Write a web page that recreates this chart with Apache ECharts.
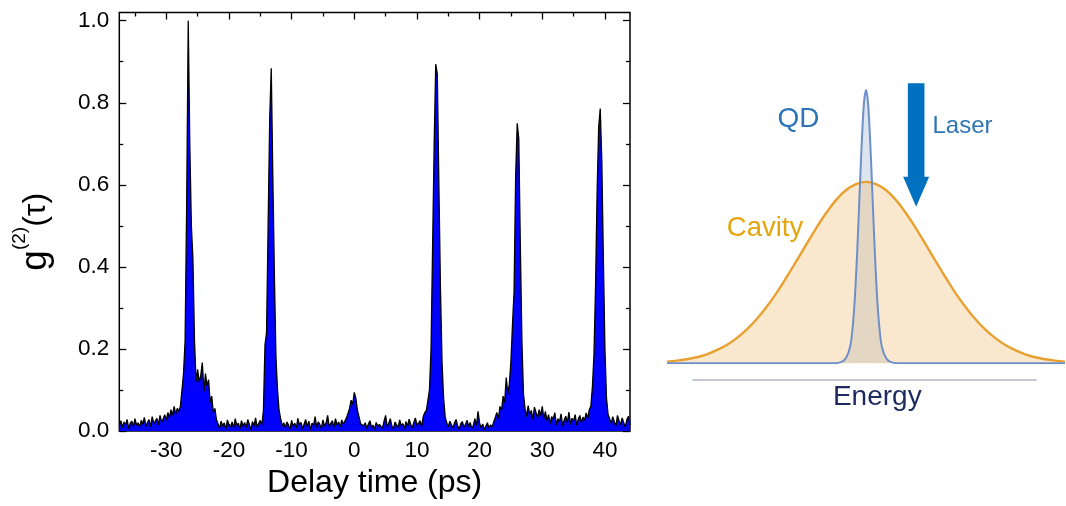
<!DOCTYPE html>
<html>
<head>
<meta charset="utf-8">
<script src="https://cdn.jsdelivr.net/npm/echarts@6/dist/echarts.min.js"></script>
<style>
  html, body { margin: 0; padding: 0; background: #fff; }
  #chart { width: 1066px; height: 506px; }
</style>
</head>
<body>
<div id="chart"></div>
<script>
// Second-order correlation trace, sampled every 0.25 ps starting at -37.5 ps
const delayStart = -37.5;
const delayStep = 0.25;
const g2Values = [
  // -37.5 .. -30.25 ps
  0.012, 0.025, 0.008, 0.022, 0.015, 0.028, 0.006, 0.019, 0.024, 0.011,
  0.030, 0.014, 0.020, 0.009, 0.026, 0.017, 0.033, 0.012, 0.021, 0.028,
  0.010, 0.035, 0.018, 0.024, 0.031, 0.015, 0.038, 0.022, 0.029, 0.040,
  // -30 .. -28 ps
  0.026, 0.045, 0.033, 0.052, 0.038, 0.060, 0.041, 0.055, 0.048,
  // -27.75 .. -24.75 ps (peak)
  0.060, 0.100, 0.140, 0.220, 0.550, 1.000, 0.700, 0.500, 0.420, 0.220, 0.120, 0.150, 0.120,
  // -24.5 .. -22 ps
  0.135, 0.167, 0.095, 0.140, 0.110, 0.125, 0.070, 0.085, 0.045, 0.055, 0.028,
  // -21.75 .. -14.75 ps
  0.018, 0.006, 0.024, 0.012, 0.020, 0.004, 0.027, 0.015, 0.010, 0.022,
  0.007, 0.030, 0.013, 0.019, 0.005, 0.025, 0.011, 0.021, 0.008, 0.028,
  0.016, 0.003, 0.023, 0.012, 0.032, 0.009, 0.018, 0.026, 0.014,
  // -14.5 .. -11.25 ps (peak)
  0.050, 0.210, 0.240, 0.500, 0.760, 0.884, 0.620, 0.380, 0.180, 0.100, 0.050, 0.030, 0.012, 0.020,
  // -11 .. -1.25 ps
  0.008, 0.022, 0.015, 0.004, 0.026, 0.012, 0.019, 0.007, 0.031, 0.014,
  0.021, 0.005, 0.017, 0.028, 0.010, 0.024, 0.003, 0.019, 0.013, 0.035,
  0.009, 0.022, 0.016, 0.006, 0.027, 0.012, 0.020, 0.038, 0.011, 0.018,
  0.025, 0.008, 0.030, 0.015, 0.022, 0.010, 0.027, 0.017, 0.024, 0.032,
  // -1 .. 1.25 ps (zero-delay peak)
  0.030, 0.055, 0.075, 0.065, 0.094, 0.080, 0.050, 0.035, 0.018, 0.022,
  // 1.5 .. 11.25 ps
  0.012, 0.020, 0.006, 0.017, 0.025, 0.009, 0.014, 0.004, 0.021, 0.011,
  0.016, 0.013, 0.007, 0.024, 0.038, 0.010, 0.019, 0.030, 0.012, 0.005,
  0.022, 0.015, 0.009, 0.027, 0.013, 0.018, 0.006, 0.023, 0.011, 0.029,
  0.016, 0.008, 0.021, 0.032, 0.014, 0.019, 0.025, 0.010, 0.035, 0.045,
  // 11.5 .. 14.75 ps (peak)
  0.050, 0.075, 0.100, 0.200, 0.450, 0.700, 0.894, 0.870, 0.600, 0.350, 0.170, 0.080, 0.035, 0.020,
  // 15 .. 22.5 ps
  0.010, 0.024, 0.015, 0.007, 0.020, 0.028, 0.012, 0.005, 0.018, 0.023,
  0.009, 0.016, 0.026, 0.011, 0.021, 0.006, 0.014, 0.030, 0.013, 0.048,
  0.019, 0.008, 0.017, 0.003, 0.012, 0.020, 0.007, 0.015, 0.010, 0.022,
  0.033,
  // 22.75 .. 24.75 ps
  0.045, 0.030, 0.060, 0.050, 0.085, 0.070, 0.130, 0.090, 0.115,
  // 25 .. 27 ps (peak)
  0.170, 0.260, 0.340, 0.620, 0.750, 0.713, 0.450, 0.220, 0.090,
  // 27.25 .. 37.5 ps
  0.055, 0.035, 0.062, 0.040, 0.050, 0.028, 0.058, 0.045, 0.032, 0.052,
  0.038, 0.060, 0.030, 0.048,
  0.025, 0.040, 0.018, 0.035, 0.028, 0.045, 0.015, 0.030, 0.022, 0.042,
  0.012, 0.027, 0.036, 0.020, 0.046, 0.016, 0.031, 0.024, 0.040, 0.014,
  0.029, 0.038, 0.020, 0.034, 0.026, 0.044, 0.030, 0.052,
  // 37.75 .. 40.5 ps (peak)
  0.060, 0.108, 0.185, 0.350, 0.580, 0.740, 0.786, 0.660, 0.420, 0.200, 0.080, 0.040,
  // 40.75 .. 44 ps
  0.030, 0.018, 0.035, 0.022, 0.012, 0.038, 0.025, 0.015, 0.032, 0.020, 0.010, 0.028, 0.036, 0.015
];

const delayTicks = [-30, -20, -10, 0, 10, 20, 30, 40];
const delayMinorTicks = [-35, -25, -15, -5, 5, 15, 25, 35];
const g2Ticks = [0, 0.2, 0.4, 0.6, 0.8, 1.0];
const g2MinorTicks = [0.1, 0.3, 0.5, 0.7, 0.9];

// Spectral sketch: cavity mode, quantum-dot line and laser position (arbitrary energy units 0..100)
const cavityStep = 2.5;
const cavityLevel = [
  0.006, 0.010, 0.015, 0.022, 0.033, 0.048, 0.067, 0.092, 0.123, 0.161,
  0.206, 0.257, 0.314, 0.374, 0.435, 0.495, 0.550, 0.598, 0.634, 0.656,
  0.664,
  0.656, 0.634, 0.598, 0.550, 0.495, 0.435, 0.374, 0.314, 0.257, 0.206,
  0.161, 0.123, 0.092, 0.067, 0.048, 0.033, 0.022, 0.015, 0.010, 0.006
];
const qdEnergy = [0, 42, 44, 45, 46, 46.5, 47, 47.5, 48, 48.5, 49, 49.5, 50,
                  50.5, 51, 51.5, 52, 52.5, 53, 53.5, 54, 55, 56, 58, 100];
const qdLevel = [0, 0, 0.006, 0.02, 0.06, 0.11, 0.195, 0.32, 0.48, 0.66, 0.83, 0.955, 1.0,
                 0.955, 0.83, 0.66, 0.48, 0.32, 0.195, 0.11, 0.06, 0.02, 0.006, 0, 0];
const laserEnergy = 62.6;
const laserTop = 1.025;
const laserTip = 0.573;

const FONT = '"Liberation Sans", Arial, Helvetica, sans-serif';

const g2Data = g2Values.map((v, i) => [delayStart + i * delayStep, v]);
const cavityData = cavityLevel.map((v, i) => [i * cavityStep, v]);
const qdData = qdEnergy.map((e, i) => [e, qdLevel[i]]);

const xRange = { min: -37.5, max: 44 };
const yRange = { min: 0, max: 1.02 };
const tickLine = { color: '#000', width: 1.3 };

function xAx(position, ticks, len, labels) {
  return Object.assign({
    type: 'value', gridIndex: 0, position: position,
    axisLine: { show: false, onZero: false },
    splitLine: { show: false },
    axisTick: { show: true, inside: true, length: len, customValues: ticks, lineStyle: tickLine },
    axisLabel: labels
      ? { show: true, customValues: ticks, margin: 8, fontFamily: FONT, fontSize: 22.5, color: '#000' }
      : { show: false }
  }, xRange);
}
function yAx(position, ticks, len, labels) {
  return Object.assign({
    type: 'value', gridIndex: 0, position: position,
    axisLine: { show: false, onZero: false },
    splitLine: { show: false },
    axisTick: { show: true, inside: true, length: len, customValues: ticks, lineStyle: tickLine },
    axisLabel: labels
      ? { show: true, customValues: ticks, margin: 10, fontFamily: FONT, fontSize: 22.5, color: '#000',
          formatter: v => v.toFixed(1) }
      : { show: false }
  }, yRange);
}

const xMain = xAx('bottom', delayTicks, 7, true);
xMain.name = 'Delay time (ps)';
xMain.nameLocation = 'middle';
xMain.nameGap = 34;
xMain.nameTextStyle = { fontFamily: FONT, fontSize: 32, color: '#000' };

const yMain = yAx('left', g2Ticks, 7, true);
yMain.name = '{g|g}{s|(2)}{t|(τ)}';
yMain.nameLocation = 'middle';
yMain.nameRotate = 90;
yMain.nameGap = 58;
yMain.nameTextStyle = {
  fontFamily: FONT, color: '#000',
  padding: [0, 20, 0, 0],
  rich: {
    g: { fontFamily: FONT, fontSize: 37, color: '#000' },
    s: { fontFamily: FONT, fontSize: 19, color: '#000', padding: [0, 0, 32, 0] },
    t: { fontFamily: FONT, fontSize: 32, color: '#000' }
  }
};

const chart = echarts.init(document.getElementById('chart'), null, { renderer: 'canvas' });
chart.setOption({
  animation: false,
  backgroundColor: '#fff',
  grid: [
    { left: 119.3, right: 436, top: 12.5, bottom: 75, show: true, borderColor: '#000', borderWidth: 1.5,
      backgroundColor: 'transparent' },
    { left: 667, right: 1, top: 62.7, bottom: 142.7 }
  ],
  xAxis: [
    xMain,
    xAx('bottom', delayMinorTicks, 4, false),
    xAx('top', delayTicks, 7, false),
    xAx('top', delayMinorTicks, 4, false),
    { type: 'value', gridIndex: 1, min: 0, max: 100, show: false }
  ],
  yAxis: [
    yMain,
    yAx('left', g2MinorTicks, 4, false),
    yAx('right', g2Ticks, 7, false),
    yAx('right', g2MinorTicks, 4, false),
    { type: 'value', gridIndex: 1, min: 0, max: 1.1, show: false }
  ],
  series: [
    {
      name: 'g2', type: 'line', xAxisIndex: 0, yAxisIndex: 0,
      data: g2Data, showSymbol: false, sampling: null,
      lineStyle: { color: '#000', width: 1.3 },
      areaStyle: { color: '#0000FF', opacity: 1 },
      silent: true
    },
    {
      name: 'QD fill', type: 'line', xAxisIndex: 4, yAxisIndex: 4,
      data: qdData, showSymbol: false, smooth: 0.3,
      lineStyle: { width: 0 },
      areaStyle: { color: '#DCE4F0', opacity: 1 },
      silent: true
    },
    {
      name: 'Cavity', type: 'line', xAxisIndex: 4, yAxisIndex: 4,
      data: cavityData, showSymbol: false, smooth: 0.4,
      lineStyle: { color: '#E8A030', width: 2.4 },
      areaStyle: { color: 'rgba(240,190,120,0.36)', opacity: 1 },
      silent: true
    },
    {
      name: 'QD', type: 'line', xAxisIndex: 4, yAxisIndex: 4,
      data: qdData, showSymbol: false, smooth: 0.3,
      lineStyle: { color: '#6E8FC8', width: 2 },
      silent: true
    },
    {
      name: 'Laser', type: 'custom', xAxisIndex: 4, yAxisIndex: 4,
      data: [[laserEnergy, laserTop, laserTip]],
      silent: true,
      renderItem: function (params, api) {
        const top = api.coord([api.value(0), api.value(1)]);
        const tip = api.coord([api.value(0), api.value(2)]);
        const x = tip[0], shaft = 8.3, head = 13, headLen = 30;
        const base = tip[1] - headLen;
        return {
          type: 'polygon',
          shape: { points: [
            [x - shaft, top[1]], [x + shaft, top[1]], [x + shaft, base], [x + head, base],
            [x, tip[1]], [x - head, base], [x - shaft, base]
          ] },
          style: { fill: '#0070C0' }
        };
      }
    }
  ],
  graphic: [
    { type: 'line', silent: true, shape: { x1: 692.7, y1: 380, x2: 1036.7, y2: 380 },
      style: { stroke: '#8C91A8', lineWidth: 1 } },
    { type: 'text', silent: true, x: 798.5, y: 119,
      style: { text: 'QD', fontFamily: FONT, fontSize: 28, fill: '#2E75B6', align: 'center', verticalAlign: 'middle' } },
    { type: 'text', silent: true, x: 962.5, y: 126,
      style: { text: 'Laser', fontFamily: FONT, fontSize: 24, fill: '#2E75B6', align: 'center', verticalAlign: 'middle' } },
    { type: 'text', silent: true, x: 765, y: 228,
      style: { text: 'Cavity', fontFamily: FONT, fontSize: 27.5, fill: '#E3A60C', align: 'center', verticalAlign: 'middle' } },
    { type: 'text', silent: true, x: 877.3, y: 397,
      style: { text: 'Energy', fontFamily: FONT, fontSize: 28, fill: '#1F2A5E', align: 'center', verticalAlign: 'middle' } }
  ]
});
</script>
</body>
</html>
